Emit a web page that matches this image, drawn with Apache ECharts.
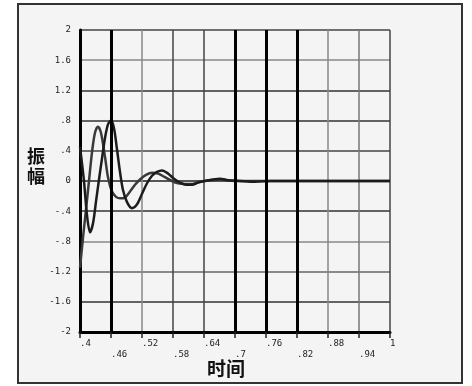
<!DOCTYPE html>
<html>
<head>
<meta charset="utf-8">
<script src="https://cdn.jsdelivr.net/npm/echarts@6/dist/echarts.min.js"></script>
<style>html,body{margin:0;padding:0;background:#fff}#c{width:472px;height:386px}</style>
</head>
<body>
<div id="c"></div>
<script>
// ---- data ----
var xTickLabels = ['.4', '.46', '.52', '.58', '.64', '.7', '.76', '.82', '.88', '.94', '1'];
var yTickLabels = ['-2', '-1.6', '-1.2', '-.8', '-.4', '0', '.4', '.8', '1.2', '1.6', '2'];
var thickGridX = [0.46, 0.7, 0.76, 0.82];

var tP = [0.400, 0.4058, 0.4116, 0.4174, 0.4232, 0.4290, 0.4348, 0.4406, 0.4484, 0.4542, 0.4619, 0.4697, 0.4774, 0.4871, 0.4968, 0.5065, 0.5161, 0.5277, 0.5394, 0.5510, 0.5645, 0.5781, 0.5897, 0.6032, 0.6168, 0.6323, 0.6516, 0.6710, 0.7000, 0.8000, 0.9000, 1.000];
var vP = [-1.15, -0.75, -0.38, 0.00, 0.38, 0.64, 0.72, 0.64, 0.32, 0.05, -0.14, -0.21, -0.23, -0.22, -0.14, -0.05, 0.02, 0.08, 0.11, 0.10, 0.05, 0.00, -0.03, -0.04, -0.04, -0.01, 0.01, 0.02, 0.00, 0.00, 0.00, 0.00];

var tQ = [0.400, 0.4077, 0.4135, 0.4194, 0.4252, 0.4310, 0.4368, 0.4426, 0.4484, 0.4542, 0.4600, 0.4658, 0.4716, 0.4774, 0.4832, 0.4910, 0.5006, 0.5103, 0.5200, 0.5297, 0.5394, 0.5490, 0.5587, 0.5703, 0.5819, 0.5935, 0.6052, 0.6168, 0.6284, 0.6419, 0.6574, 0.6710, 0.6865, 0.7097, 0.7387, 0.7677, 0.8258, 0.9032, 1.000];
var vQ = [0.45, 0.00, -0.45, -0.68, -0.56, -0.27, 0.02, 0.30, 0.57, 0.75, 0.80, 0.70, 0.42, 0.12, -0.12, -0.28, -0.36, -0.31, -0.17, -0.03, 0.07, 0.12, 0.14, 0.10, 0.03, -0.02, -0.05, -0.05, -0.02, 0.00, 0.02, 0.03, 0.01, 0.00, -0.01, 0.00, 0.00, 0.00, 0.00];

function pairs(t, v) { return t.map(function (x, i) { return [x, v[i]]; }); }

var chart = echarts.init(document.getElementById('c'), null, { renderer: 'canvas' });
chart.setOption({
  animation: false,
  backgroundColor: '#ffffff',
  graphic: [
    { type: 'rect', z: -10, shape: { x: 18, y: 4, width: 444, height: 379 },
      style: { fill: '#f4f4f4', stroke: '#333', lineWidth: 2 } },
    { type: 'text', left: 27, top: 146, z: 10,
      style: { text: '振\n幅', font: 'bold 18px "Noto Sans CJK SC"', fill: '#111', lineHeight: 20 } },
    { type: 'text', left: 207, top: 359, z: 10,
      style: { text: '时间', font: 'bold 19px "Noto Sans CJK SC"', fill: '#111' } }
  ],
  grid: { left: 80, right: 82, top: 30, bottom: 54, containLabel: false },
  xAxis: {
    type: 'value', min: 0.4, max: 1, interval: 0.06,
    axisLine: { show: true, onZero: false, lineStyle: { color: '#000', width: 3 } },
    axisTick: { show: true, length: 6, lineStyle: { color: '#222', width: 1.5 } },
    axisLabel: {
      show: true, align: 'left', margin: 6, color: '#222', fontSize: 9,
      fontFamily: 'DejaVu Sans Mono', lineHeight: 11,
      formatter: function (v) {
        var i = Math.round((v - 0.4) / 0.06);
        var s = xTickLabels[i] || '';
        return i % 2 ? '\n' + s : s;
      }
    },
    splitLine: { show: true, lineStyle: { width: 1.5,
      color: ['#000', '#000', '#888', '#444', '#444', '#000', '#000', '#000', '#888', '#777', '#444'] } }
  },
  yAxis: {
    type: 'value', min: -2, max: 2, interval: 0.4,
    axisLine: { show: true, onZero: false, lineStyle: { color: '#000', width: 3 } },
    axisTick: { show: false },
    axisLabel: {
      show: true, margin: 9, color: '#222', fontSize: 9, fontFamily: 'DejaVu Sans Mono',
      formatter: function (v) {
        var i = Math.round((v + 2) / 0.4);
        return yTickLabels[i] || '';
      }
    },
    splitLine: { show: true, lineStyle: { width: 1.5,
      color: ['#000', '#333', '#666', '#888', '#333', '#222', '#444', '#333', '#333', '#888', '#444'] } }
  },
  series: [
    { type: 'line', data: pairs(tP, vP), showSymbol: false, smooth: 0.3,
      lineStyle: { color: '#3a3a3a', width: 2.5 }, z: 3 },
    { type: 'line', data: pairs(tQ, vQ), showSymbol: false, smooth: 0.3,
      lineStyle: { color: '#1c1c1c', width: 2.5 }, z: 4,
      markLine: { symbol: 'none', silent: true, label: { show: false },
        lineStyle: { color: '#000', width: 3, type: 'solid' },
        data: thickGridX.map(function (x) { return { xAxis: x }; }) } }
  ]
});
</script>
</body>
</html>
